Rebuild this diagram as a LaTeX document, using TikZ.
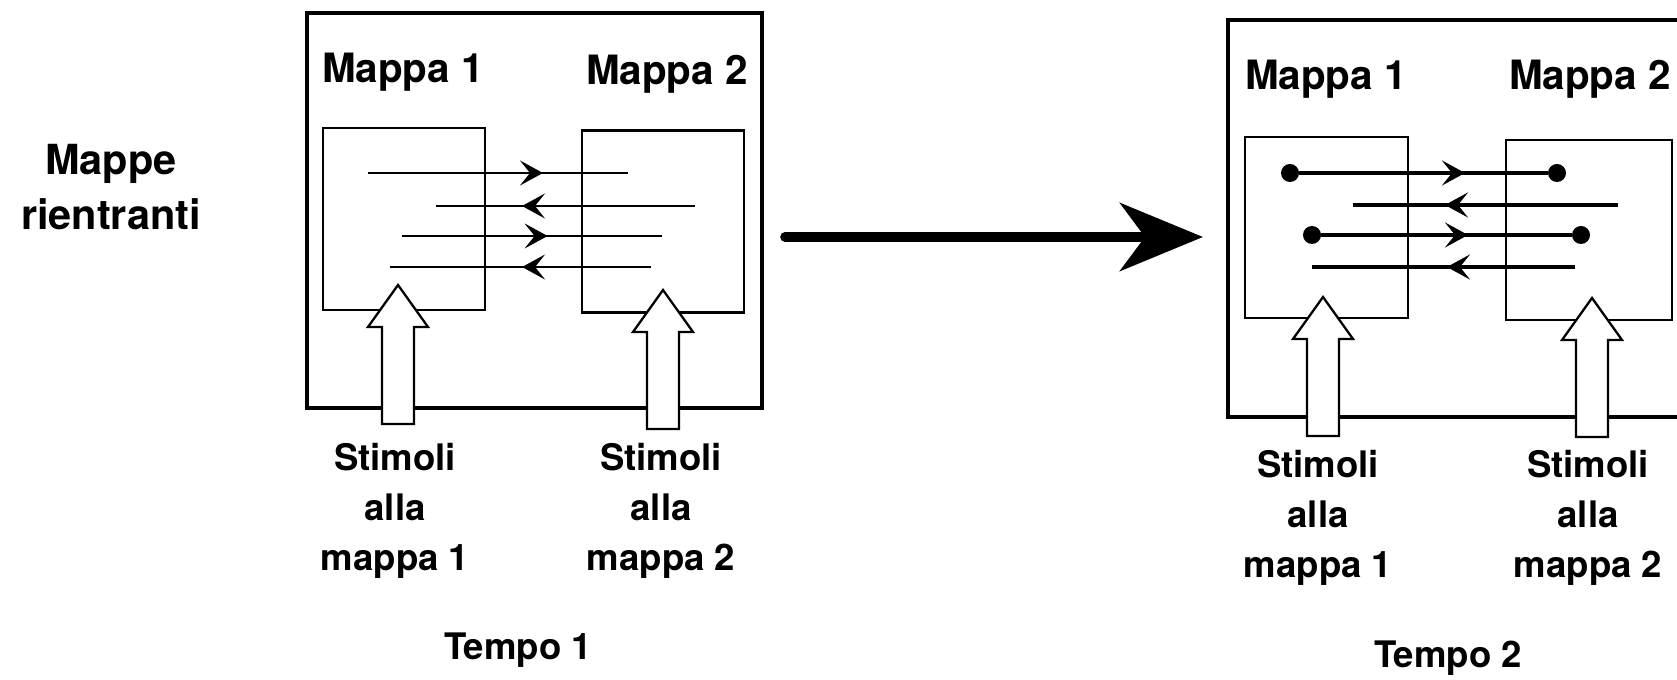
\documentclass[tikz,border=0pt]{standalone}
\usepackage{fontspec}
\setmainfont{TeX Gyre Heros}
\usetikzlibrary{arrows.meta,decorations.markings}
\tikzset{
  linktip/.tip={Stealth[length=0.46cm,width=0.5cm,inset=0.2cm]},
  % ramar och kartor
  panel/.style={draw,line width=1.9pt,minimum width=9.1cm,minimum height=7.9cm,inner sep=0pt},
  mapbox/.style={draw,line width=1.25pt,minimum width=3.24cm,minimum height=3.64cm,inner sep=0pt},
  maplbl/.style={font=\fontsize{23}{28}\selectfont\bfseries,inner sep=0pt,anchor=base},
  stimlbl/.style={font=\fontsize{20.8}{28.45}\selectfont\bfseries,align=center,inner sep=0pt},
  sidelbl/.style={font=\fontsize{23.6}{31.3}\selectfont\bfseries,align=center,inner sep=0pt},
  % förbindelser
  maplink/.style={line width=1.1pt,postaction={decorate},
    decoration={markings,mark=at position #1 with {\arrow{linktip}}}},
  strong/.style={line width=2.3pt},
  mapdot/.style={circle,fill,inner sep=0pt,minimum size=0.36cm},
  bigarrow/.style={line width=5.5pt,line cap=round,
    -{Stealth[length=1.66cm,width=1.36cm,inset=0.5cm]}},
  stim/.pic={\draw[line width=1.3pt,fill=white] (-0.32,-2.78) -- (-0.32,-0.84)
    -- (-0.6,-0.84) -- (0,0) -- (0.6,-0.84) -- (0.32,-0.84) -- (0.32,-2.78) -- cycle;},
}
\begin{document}
\begin{tikzpicture}
\useasboundingbox (0,0) rectangle (33.54,13.6);
  \node[sidelbl] (title) at (2.22,9.86) {Mappe\\rientranti};
  % tempo 1
  \node[panel] (panA) at (10.69,9.39) {};
  \node[mapbox] (mapA1) at (8.08,9.22) {};
  \node[mapbox] (mapA2) at (13.26,9.17) {};
  \node[maplbl] (lblA1) at (8.06,11.94) {Mappa 1};
  \node[maplbl] (lblA2) at (13.34,11.90) {Mappa 2};
  \coordinate (a1w) at (7.36,10.14);  \coordinate (a1e) at (12.56,10.14);
  \coordinate (a2w) at (8.72,9.48);   \coordinate (a2e) at (13.90,9.48);
  \coordinate (a3w) at (8.04,8.88);   \coordinate (a3e) at (13.24,8.88);
  \coordinate (a4w) at (7.80,8.26);   \coordinate (a4e) at (13.02,8.26);
  \draw[maplink=0.673] (a1w) -- (a1e);
  \draw[maplink=0.668] (a2e) -- (a2w);
  \draw[maplink=0.56] (a3w) -- (a3e);
  \draw[maplink=0.494] (a4e) -- (a4w);
  \pic at (7.96,7.90) {stim};
  \pic at (13.26,7.80) {stim};
  \node[stimlbl] (stA1) at (7.90,3.38) {Stimoli\\alla\\mappa 1};
  \node[stimlbl] (stA2) at (13.22,3.38) {Stimoli\\alla\\mappa 2};
  \node[stimlbl] (timeA) at (10.36,0.60) {Tempo 1};
  % övergång
  \coordinate (go) at (15.70,8.86);
  \coordinate (stop) at (24.06,8.86);
  \draw[bigarrow] (go) -- (stop);
  % tempo 2
  \node[panel,minimum height=7.94cm] (panB) at (29.11,9.23) {};
  \node[mapbox,minimum width=3.26cm,minimum height=3.62cm] (mapB1) at (26.53,9.05) {};
  \node[mapbox,minimum width=3.32cm,minimum height=3.6cm] (mapB2) at (31.78,9.00) {};
  \node[maplbl] (lblB1) at (26.52,11.80) {Mappa 1};
  \node[maplbl] (lblB2) at (31.80,11.80) {Mappa 2};
  \node[mapdot] (d1w) at (25.80,10.14) {};
  \node[mapdot] (d1e) at (31.14,10.14) {};
  \node[mapdot] (d3w) at (26.24,8.90) {};
  \node[mapdot] (d3e) at (31.62,8.90) {};
  \coordinate (b2w) at (27.06,9.50);  \coordinate (b2e) at (32.36,9.50);
  \coordinate (b4w) at (26.24,8.26);  \coordinate (b4e) at (31.50,8.26);
  \draw[maplink=0.667,strong] (d1w) -- (d1e);
  \draw[maplink=0.653,strong] (b2e) -- (b2w);
  \draw[maplink=0.586,strong] (d3w) -- (d3e);
  \draw[maplink=0.487,strong] (b4e) -- (b4w);
  \pic at (26.46,7.66) {stim};
  \pic at (31.84,7.64) {stim};
  \node[stimlbl] (stB1) at (26.36,3.24) {Stimoli\\alla\\mappa 1};
  \node[stimlbl] (stB2) at (31.76,3.24) {Stimoli\\alla\\mappa 2};
  \node[stimlbl] (timeB) at (28.96,0.44) {Tempo 2};
\end{tikzpicture}
\end{document}
